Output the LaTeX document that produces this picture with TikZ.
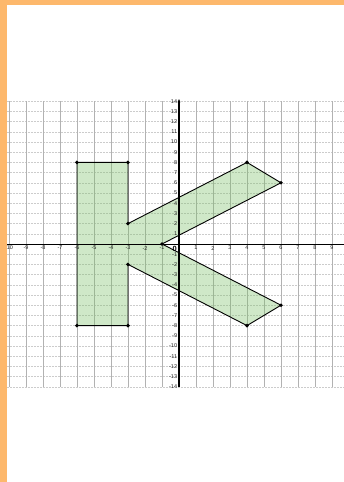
\documentclass[tikz,border=0pt]{standalone}
\usepackage{fontspec}
\setsansfont{Liberation Sans}
\usetikzlibrary{arrows.meta}
\definecolor{bandorange}{RGB}{253,184,108}
\definecolor{kgreen}{RGB}{120,190,100}

\begin{document}
\begin{tikzpicture}[
    x=17pt, y=10.2pt,
    gridv/.style={gray!60, line width=0.6pt},
    gridh/.style={gray!40, line width=0.5pt, dash pattern=on 2pt off 1pt},
    axis/.style={black, line width=0.8pt},
    ticklabel/.style={font=\fontsize{5.5}{5.5}\sffamily, text=black!85, inner sep=0pt},
    letter/.style={draw=black, line width=0.9pt, fill=kgreen, fill opacity=0.35},
    vertex/.style={circle, fill=black, inner sep=0pt, minimum size=3.8pt},
]
\useasboundingbox (-179pt,-238pt) rectangle (165pt,244pt);
\fill[white] (-179pt,-238pt) rectangle (165pt,244pt);

% grid
\foreach \y in {-14,...,14}
  \draw[gridh] (-172pt,\y) -- (165pt,\y);
\foreach \x in {-10,...,9}
  \draw[gridv] (\x,-14) -- (\x,14);

% the letter K
\coordinate (k1) at (-6,8);
\coordinate (k2) at (-3,8);
\coordinate (k3) at (-3,2);
\coordinate (k4) at (4,8);
\coordinate (k5) at (6,6);
\coordinate (k6) at (-1,0);
\coordinate (k7) at (6,-6);
\coordinate (k8) at (4,-8);
\coordinate (k9) at (-3,-2);
\coordinate (k10) at (-3,-8);
\coordinate (k11) at (-6,-8);
\draw[letter] (k1) -- (k2) -- (k3) -- (k4) -- (k5) -- (k6) -- (k7)
  -- (k8) -- (k9) -- (k10) -- (k11) -- cycle;

% axes
\draw[axis] (-172pt,0) -- (165pt,0);
\draw[axis, line width=1.1pt, -{Stealth[length=3.2pt,width=2.8pt]}] (0,-14) -- (0,14.2);

\foreach \p in {1,...,11}
  \node[vertex] (dot\p) at (k\p) {};

% tick labels
\foreach \x in {-10,...,9}{
  \ifnum\x=0\relax\else
    \node[ticklabel] (xl\x) at (\x,-0.4) {\x};
  \fi
}
\foreach \y in {-14,...,14}{
  \ifnum\y=0\relax\else
    \node[ticklabel, anchor=east] (yl\y) at (-0.1,\y) {\y};
  \fi
}
\node[font=\fontsize{7.5}{7.5}\sffamily\bfseries, inner sep=0pt] (origin) at (-0.25,-0.45) {0};

% page bands
\fill[bandorange] (-179pt,-238pt) rectangle (-172pt,244pt);
\fill[bandorange] (-179pt,239pt) rectangle (165pt,244pt);
\end{tikzpicture}
\end{document}
